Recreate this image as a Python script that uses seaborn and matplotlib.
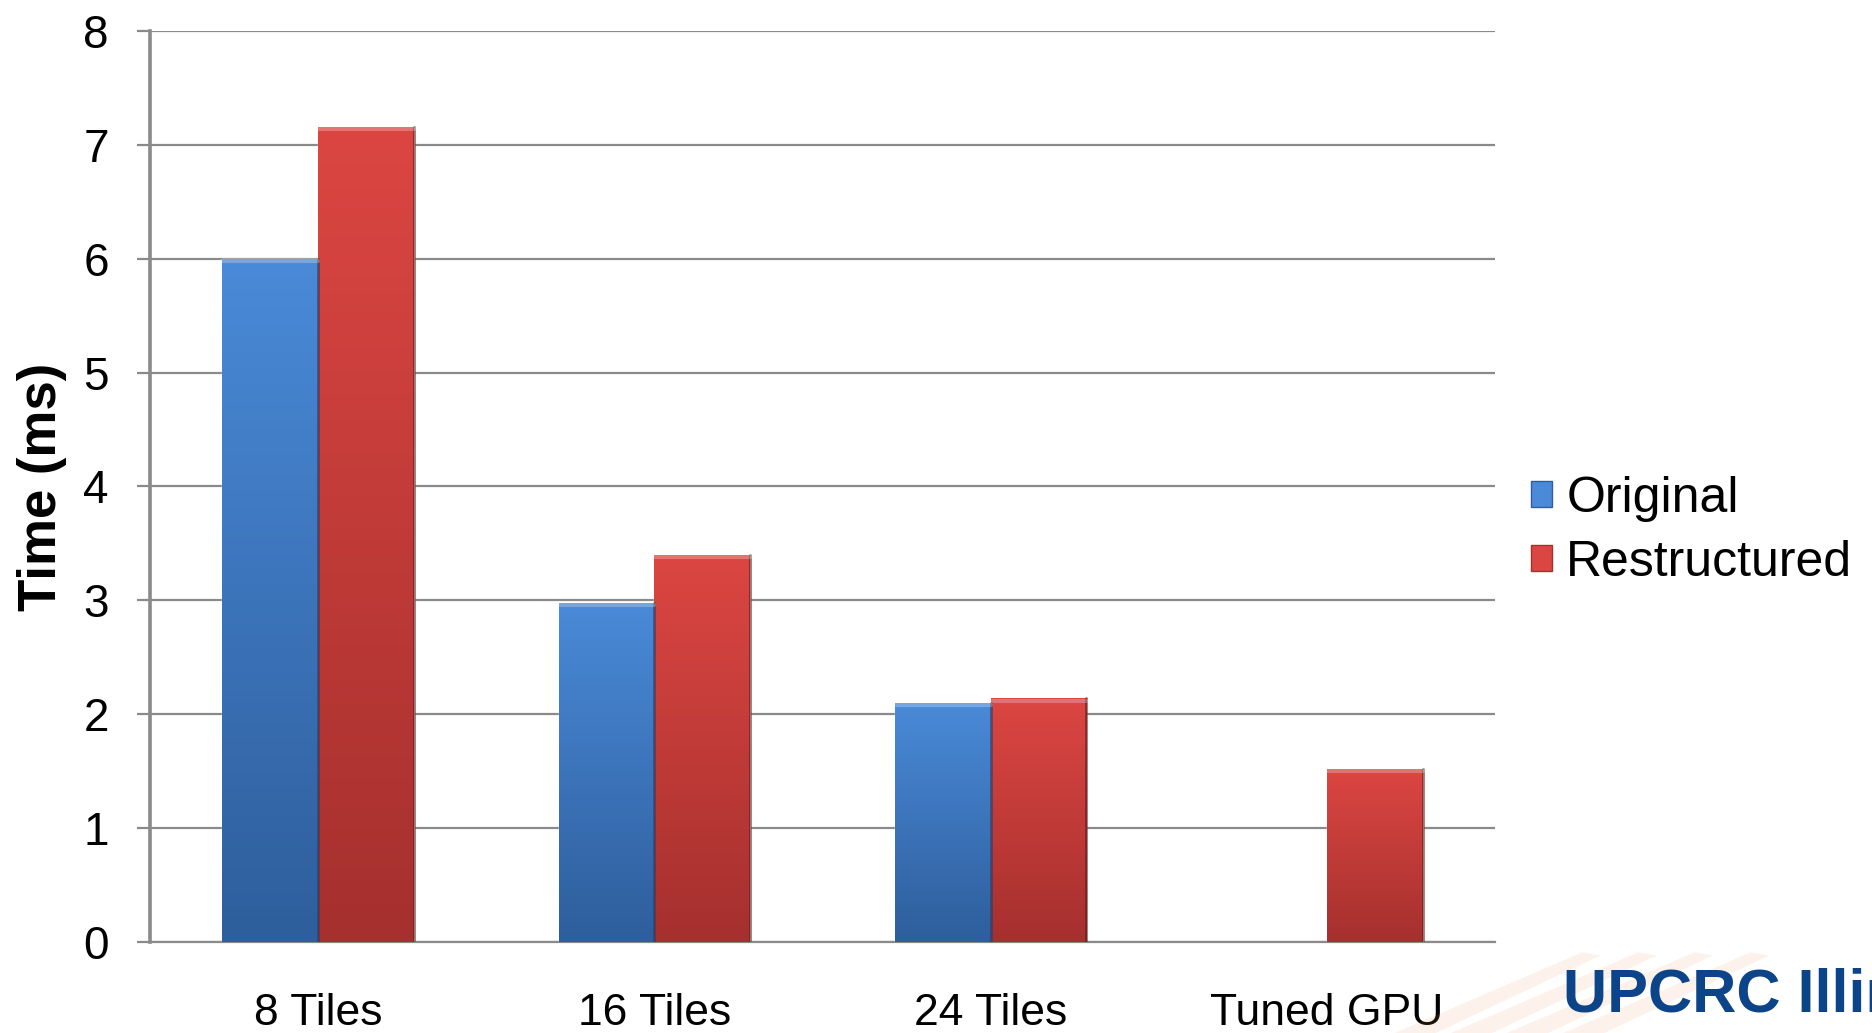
import numpy as np
import pandas as pd
import matplotlib
matplotlib.use("Agg")
import matplotlib.pyplot as plt
from matplotlib.colors import LinearSegmentedColormap
from matplotlib.patches import Patch, Polygon
import seaborn as sns

# Chart data
categories = ["8 Tiles", "16 Tiles", "24 Tiles", "Tuned GPU"]
original = [6.0, 2.98, 2.10, np.nan]
restructured = [7.16, 3.40, 2.14, 1.52]
series_names = ["Original", "Restructured"]
y_ticks = [0, 1, 2, 3, 4, 5, 6, 7, 8]

df = pd.DataFrame({
    "category": categories * 2,
    "series": [series_names[0]] * len(categories) + [series_names[1]] * len(categories),
    "time": original + restructured,
})

sns.set_theme(style="white")
plt.rcParams["font.family"] = ["Liberation Sans", "DejaVu Sans"]
for key in ["text.color", "axes.labelcolor", "xtick.labelcolor", "ytick.labelcolor"]:
    plt.rcParams[key] = "black"

fig = plt.figure(figsize=(18.72, 10.33), dpi=100)
ax = fig.add_axes([0.0801, 0.0881, 0.7185, 0.8819])

blue_top, blue_bot = "#4a8ad8", "#2e5e9c"
red_top, red_bot = "#dc4642", "#a5302e"

sns.barplot(data=df, x="category", y="time", hue="series",
            palette=[blue_top, red_top], width=0.57, ax=ax,
            saturation=1, legend=False, zorder=3)

# vertical gradient fill with a light top bevel and a dark right edge
grad = np.linspace(0, 1, 256).reshape(-1, 1)
cmaps = [LinearSegmentedColormap.from_list("b", [blue_bot, blue_top]),
         LinearSegmentedColormap.from_list("r", [red_bot, red_top])]
edges = ["#1f3f6a", "#5e1816"]
for ci, cont in enumerate(ax.containers):
    for p in cont.patches:
        h = p.get_height()
        if not np.isfinite(h) or h <= 0:
            continue
        x0, w = p.get_x(), p.get_width()
        im = ax.imshow(grad, extent=[x0, x0 + w, 0, h], origin="lower",
                       aspect="auto", cmap=cmaps[ci], zorder=4)
        im.set_clip_path(p)
        ax.plot([x0 + w, x0 + w], [0, h], color=edges[ci], lw=2.0,
                zorder=5, alpha=0.6)
        ax.plot([x0, x0 + w], [h - 0.02, h - 0.02], color="white", lw=3,
                zorder=5, alpha=0.25)

ax.set_xlim(-0.5, 3.5)
ax.set_ylim(0, 8)
ax.set_yticks(y_ticks)

ax.yaxis.grid(True, color="#8a8a8a", lw=1.6, zorder=0)
ax.set_axisbelow(True)
for s in ["top", "right"]:
    ax.spines[s].set_visible(False)
ax.spines["left"].set_color("#8a8a8a")
ax.spines["left"].set_linewidth(2.6)
ax.spines["bottom"].set_color("#8a8a8a")
ax.spines["bottom"].set_linewidth(1.6)

ax.tick_params(axis="y", which="major", length=9.5, width=1.6, color="#8a8a8a",
               pad=20, labelsize=33, left=True)
ax.tick_params(axis="x", length=0, pad=37, labelsize=32)
ax.set_xlabel("")
ax.set_ylabel("Time (ms)", fontsize=38, fontweight="bold", labelpad=12)

handles = [Patch(facecolor=blue_top, edgecolor=blue_bot, label=series_names[0]),
           Patch(facecolor=red_top, edgecolor=red_bot, label=series_names[1])]
fig.legend(handles=handles, loc="center left", bbox_to_anchor=(0.818, 0.486),
           frameon=False, fontsize=36, handlelength=0.42, handleheight=0.42,
           handletextpad=0.28, labelspacing=0.35, borderpad=0, borderaxespad=0)

# faint orange rays behind the logo
for k in range(4):
    x0 = 0.745 + 0.03 * k
    poly = Polygon([(x0, 0.0), (x0 + 0.022, 0.0),
                    (x0 + 0.11, 0.075), (x0 + 0.10, 0.078)],
                   closed=True, transform=fig.transFigure,
                   facecolor="#f29a5c", edgecolor="none", alpha=0.12)
    fig.add_artist(poly)

# logo lettering
fig.text(0.835, 0.063, "UPCRC Illinois", fontsize=44, fontweight="bold",
         color="#0b4488", ha="left", va="top")

fig.savefig("out.png", dpi=100)
